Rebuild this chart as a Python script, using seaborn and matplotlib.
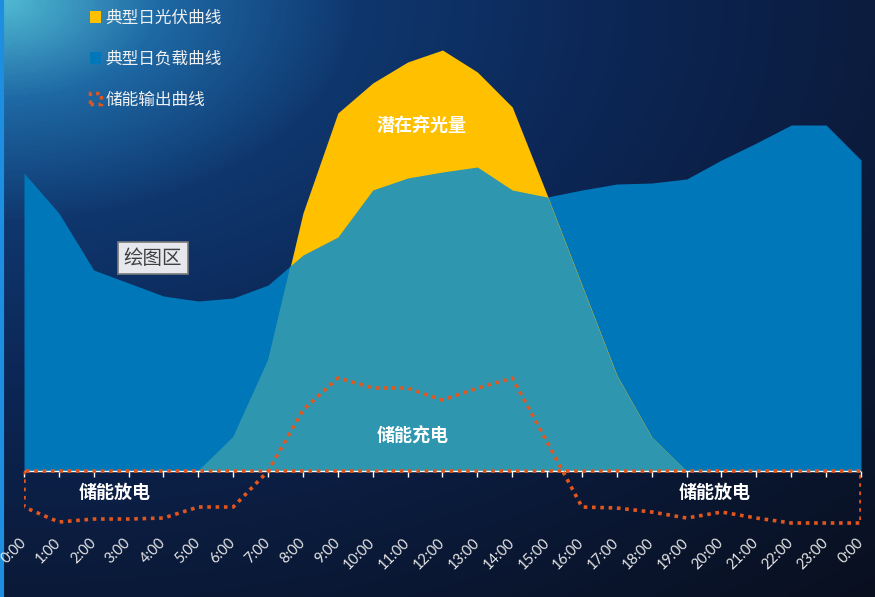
import numpy as np
import matplotlib
matplotlib.use('Agg')
import matplotlib.pyplot as plt
import seaborn as sns
import pandas as pd
from matplotlib.patches import Patch
from matplotlib.colors import LinearSegmentedColormap

# data (arbitrary units)
hours = list(range(25))
hour_labels = [f'{h % 24}:00' for h in hours]
pv = [0, 0, 0, 0, 0, 0, 34, 111, 258, 358, 388, 409, 421, 399, 364, 276, 186, 96, 34, 0, 0, 0, 0, 0, 0]
load = [298, 258, 201, 188, 175, 170, 173, 186, 216, 234, 281, 293, 299, 304, 281, 274, 281, 287, 288, 292, 311, 328, 346, 346, 311]
storage = [-36, -51, -48, -48, -47, -36, -36, 0, 61, 93, 83, 83, 71, 83, 93, 29, -36, -37, -41, -47, -41, -47, -52, -52, -52]

sns.set_theme(style='dark')
plt.rcParams['font.family'] = ['Noto Sans CJK SC', 'DejaVu Sans']

fig = plt.figure(figsize=(8.75, 5.97), dpi=100)

# background gradient
bg = fig.add_axes([0, 0, 1, 1], zorder=-1)
gx, gy = np.meshgrid(np.linspace(0, 1, 440), np.linspace(0, 1, 300))
d = np.sqrt(gx ** 2 + (gy * 1.1) ** 2) / 1.5
stops = [(0.0, (80, 185, 210)), (0.12, (30, 105, 165)), (0.27, (15, 55, 110)),
         (0.47, (12, 38, 85)), (0.67, (11, 28, 62)), (1.0, (9, 15, 30))]
cmap = LinearSegmentedColormap.from_list('bg', [(p, tuple(c / 255 for c in col)) for p, col in stops])
bg.imshow(d, cmap=cmap, vmin=0, vmax=1, aspect='auto', extent=[0, 1, 0, 1], origin='upper')
bg.axvline(0.002, color='#1e8fe0', lw=3)
bg.set_xlim(0, 1)
bg.set_ylim(0, 1)
bg.axis('off')

ax = fig.add_axes([0.0274, 0.1122, 0.9566, 0.8208])
ax.set_facecolor('none')

x = np.array(hours)
pv_a = np.array(pv)
load_a = np.array(load)

blue = '#0077b9'
yellow = '#ffc000'
teal = '#2e96ae'
orange = '#e2561e'

ax.fill_between(x, 0, load_a, color=blue, lw=0, zorder=1)
pv_fill = ax.fill_between(x, 0, pv_a, color=yellow, lw=0, zorder=2)
# overlap of load and PV: load area clipped to the PV area
overlap = ax.fill_between(x, 0, load_a, color=teal, lw=0, zorder=3)
overlap.set_clip_path(pv_fill.get_paths()[0], ax.transData)

# baseline
ax.axhline(0, color='white', lw=1, zorder=4)

# storage output drawn as an outlined area (closed to the baseline)
outline = pd.DataFrame({'hour': [0] + hours + [24, 0],
                        'value': [0] + storage + [0, 0]})
sns.lineplot(data=outline, x='hour', y='value', sort=False, estimator=None,
             color=orange, lw=2.6, linestyle=(0, (1, 1.3)), ax=ax, zorder=5)

ax.set_xlim(0, 24)
ax.set_ylim(-59, 431)
ax.set_xlabel('')
ax.set_ylabel('')
ax.set_yticks([])
ax.grid(False)
for s in ['top', 'right', 'left']:
    ax.spines[s].set_visible(False)
ax.spines['bottom'].set_position(('data', 0))
ax.spines['bottom'].set_visible(False)
ax.set_xticks(hours)
ax.set_xticklabels(hour_labels, rotation=45, ha='right', va='center',
                   rotation_mode='anchor', color='#e6e6e6', fontsize=10.5,
                   family=['Lato', 'DejaVu Sans'])
ax.tick_params(axis='x', direction='out', length=4, width=1, color='white', pad=46, bottom=True)

# annotations
ax.text(11.4, 346, '潜在弃光量', color='white', fontsize=13, fontweight='bold', ha='center', va='center', zorder=6)
ax.text(11.15, 35, '储能充电', color='white', fontsize=13, fontweight='bold', ha='center', va='center', zorder=6)
ax.text(2.6, -21, '储能放电', color='white', fontsize=13, fontweight='bold', ha='center', va='center', zorder=6)
ax.text(19.8, -21, '储能放电', color='white', fontsize=13, fontweight='bold', ha='center', va='center', zorder=6)
ax.text(3.7, 213, '绘图区', color='#404040', fontsize=14, ha='center', va='center', zorder=6,
        bbox=dict(boxstyle='square,pad=0.3', facecolor='#e6e8ee', edgecolor='#7a7a7a', lw=1.2))

# legend
handles = [Patch(facecolor=yellow, edgecolor='none'),
           Patch(facecolor=blue, edgecolor='none'),
           Patch(facecolor='none', edgecolor=orange, lw=2.5, linestyle=(0, (1, 1.3)))]
labels = ['典型日光伏曲线', '典型日负载曲线', '储能输出曲线']
fig.legend(handles, labels, loc='upper left', bbox_to_anchor=(0.093, 0.997), frameon=False,
           labelcolor='#f0f0f0', fontsize=12, handlelength=0.7, handleheight=0.7,
           handletextpad=0.25, labelspacing=1.42, borderpad=0)

fig.savefig('out.png', dpi=100)
